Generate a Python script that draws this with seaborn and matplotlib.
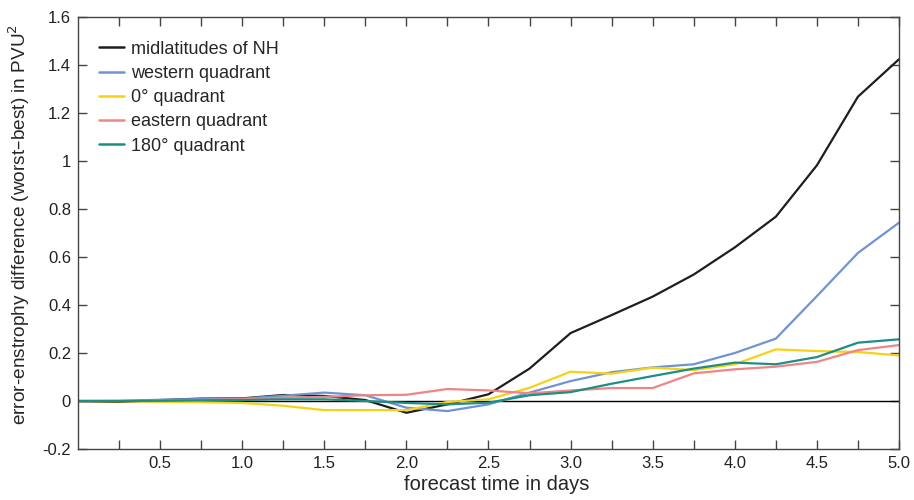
import numpy as np
import pandas as pd
import matplotlib
matplotlib.use("Agg")
import matplotlib.pyplot as plt
import seaborn as sns

# -----------------------------
# data
# -----------------------------
days = [0, 0.25, 0.5, 0.75, 1.0, 1.25, 1.5, 1.75, 2.0, 2.25, 2.5,
        2.75, 3.0, 3.25, 3.5, 3.75, 4.0, 4.25, 4.5, 4.75, 5.0]

nh = [0, -0.004, 0.004, 0.01, 0.011, 0.025, 0.021, 0.004, -0.049, -0.014, 0.028,
      0.135, 0.283, 0.358, 0.435, 0.527, 0.64, 0.768, 0.982, 1.268, 1.424]
western = [0, 0.001, 0.005, 0.008, 0.01, 0.022, 0.035, 0.024, -0.028, -0.042, -0.014,
           0.035, 0.083, 0.12, 0.14, 0.153, 0.2, 0.26, 0.437, 0.617, 0.743]
zero_q = [0, -0.001, -0.003, -0.005, -0.008, -0.02, -0.038, -0.038, -0.038, -0.004, 0.007,
          0.055, 0.122, 0.114, 0.139, 0.129, 0.153, 0.215, 0.208, 0.204, 0.19]
eastern = [0, 0.0, 0.001, 0.004, 0.007, 0.014, 0.017, 0.024, 0.026, 0.05, 0.044,
           0.032, 0.044, 0.054, 0.054, 0.115, 0.132, 0.143, 0.163, 0.212, 0.233]
q180 = [0, 0.0, 0.001, 0.003, 0.004, 0.007, 0.007, 0.0, -0.008, -0.014, -0.007,
        0.024, 0.037, 0.072, 0.104, 0.135, 0.16, 0.153, 0.183, 0.243, 0.257]

names = ["midlatitudes of NH", "western quadrant", "0° quadrant",
         "eastern quadrant", "180° quadrant"]
colors = ["#1e1e1e", "#7093d2", "#f7d115", "#ef8585", "#1c8f85"]

x_ticks = [0.5, 1.0, 1.5, 2.0, 2.5, 3.0, 3.5, 4.0, 4.5, 5.0]
x_labels = ["0.5", "1.0", "1.5", "2.0", "2.5", "3.0", "3.5", "4.0", "4.5", "5.0"]
y_ticks = [-0.2, 0, 0.2, 0.4, 0.6, 0.8, 1.0, 1.2, 1.4, 1.6]
y_labels = ["-0.2", "0", "0.2", "0.4", "0.6", "0.8", "1", "1.2", "1.4", "1.6"]

df = pd.DataFrame({"day": days * 5,
                   "value": nh + western + zero_q + eastern + q180,
                   "series": np.repeat(names, len(days))})

# -----------------------------
# style
# -----------------------------
sns.set_style("ticks")
plt.rcParams["font.family"] = ["Liberation Sans", "DejaVu Sans"]
plt.rcParams["axes.edgecolor"] = "#444444"
plt.rcParams["xtick.color"] = "#444444"
plt.rcParams["ytick.color"] = "#444444"
plt.rcParams["xtick.labelcolor"] = "#222222"
plt.rcParams["ytick.labelcolor"] = "#222222"

fig = plt.figure(figsize=(9.14, 5.0), dpi=100)
ax = fig.add_axes([0.0853, 0.102, 0.8983, 0.864])

ax.axhline(0, color="black", lw=1.0, zorder=1)
sns.lineplot(data=df, x="day", y="value", hue="series", hue_order=names,
             palette=colors, linewidth=1.6, ax=ax, zorder=2)

ax.set_xlim(0, 5.0)
ax.set_ylim(-0.2, 1.6)
ax.set_xticks(np.arange(0.25, 5.01, 0.25), minor=True)
ax.set_xticks(x_ticks)
ax.set_xticklabels(x_labels)
ax.set_yticks(y_ticks)
ax.set_yticklabels(y_labels)
ax.tick_params(axis="both", which="both", direction="in", top=True, right=True,
               length=6.5, width=1, labelsize=12, pad=5)
for s in ax.spines.values():
    s.set_linewidth(1.0)

ax.set_xlabel("forecast time in days", fontsize=14.5)
ax.set_ylabel("error-enstrophy difference (worst\u2013best) in PVU$^2$", fontsize=13.7)
ax.xaxis.set_label_coords(0.51, -0.06)
ax.yaxis.set_label_coords(-0.056, 0.52)

leg = ax.legend(loc="upper left", frameon=False, fontsize=13,
                handlelength=1.35, handletextpad=0.4, labelspacing=0.4,
                borderpad=0, borderaxespad=0, bbox_to_anchor=(0.026, 0.945))
for line in leg.get_lines():
    line.set_linewidth(1.8)

fig.savefig("out.png", dpi=100)
